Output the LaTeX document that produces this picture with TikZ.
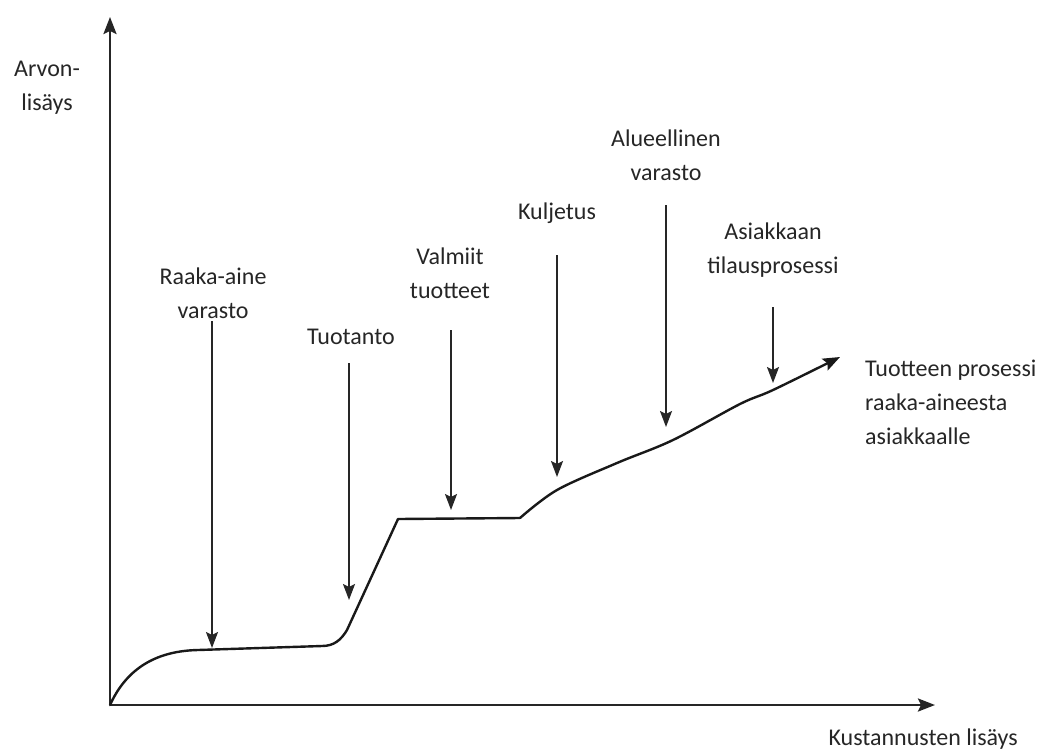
\documentclass[tikz,border=0pt]{standalone}
\usepackage{fontspec}
\setmainfont{Carlito}
\usetikzlibrary{arrows.meta}
\begin{document}
\begin{tikzpicture}[x=1pt,y=-1pt,
  lbl/.style={font=\fontsize{24}{34}\selectfont, text=black!85, align=center, inner sep=0pt},
  axisline/.style={line width=2.6pt, draw=black!85, -{Stealth[length=17pt,width=13pt,inset=3pt]}},
  pointer/.style={line width=2pt, draw=black!85, -{Stealth[length=16pt,width=12pt,inset=3pt]}},
  flow/.style={line width=2.4pt, draw=black!90, line join=round, line cap=round}]
\useasboundingbox (0,0) rectangle (1054,753);

% axes
\coordinate (O) at (110,705);
\coordinate (ytop) at (110,17);
\coordinate (xend) at (935,705);
\draw[axisline] (O) -- (ytop);
\draw[axisline] (O) -- (xend);

% axis labels
\node[lbl] (ylab) at (47,88) {Arvon-\\lisäys};
\node[lbl, anchor=east] (xlab) at (1018,739) {Kustannusten lisäys};

% value-added curve
\coordinate (p1) at (198,650);
\coordinate (p2) at (322,646);
\coordinate (p3) at (347,630);
\coordinate (p4) at (398,519);
\coordinate (p5) at (520,518);
\coordinate (pend) at (840,357);
\draw[flow] (O) .. controls (125,672) and (152,651) .. (p1)
  -- (p2) .. controls (334,646) and (341,640) .. (p3)
  -- (p4) -- (p5);
\draw[flow, -{Stealth[length=17pt,width=13pt,inset=3pt]}]
  plot[smooth, tension=0.55] coordinates {(520,518) (557,490) (617,463) (673,440) (740,404) (773,390) (pend)};

% stage labels
\node[lbl] (s1) at (213,293) {Raaka-aine\\varasto};
\node[lbl] (s2) at (351,337) {Tuotanto};
\node[lbl] (s3) at (450,273) {Valmiit\\tuotteet};
\node[lbl] (s4) at (557,213) {Kuljetus};
\node[lbl] (s5) at (666,155) {Alueellinen\\varasto};
\node[lbl] (s6) at (773,250) {Asiakkaan\\tilausprosessi};
\node[lbl, align=left, anchor=west] (cap) at (865,402) {Tuotteen prosessi\\raaka-aineesta\\asiakkaalle};

% pointers from each stage down to the curve
\coordinate (a1) at (212,321);  \coordinate (b1) at (212,648);
\coordinate (a2) at (349,363);  \coordinate (b2) at (349,600);
\coordinate (a3) at (451,330);  \coordinate (b3) at (451,510);
\coordinate (a4) at (557,255);  \coordinate (b4) at (557,477);
\coordinate (a5) at (666,205);  \coordinate (b5) at (666,427);
\coordinate (a6) at (773,307);  \coordinate (b6) at (773,383);
\foreach \i in {1,...,6} \draw[pointer] (a\i) -- (b\i);
\end{tikzpicture}
\end{document}
